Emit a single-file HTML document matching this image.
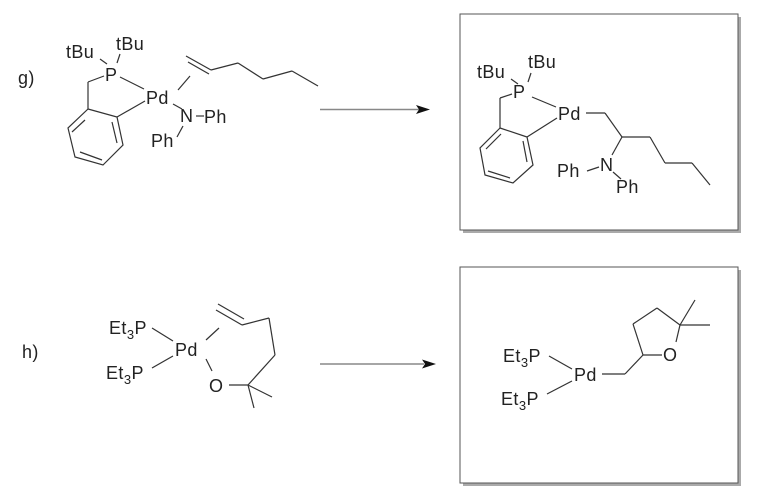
<!DOCTYPE html>
<html><head><meta charset="utf-8"><style>
html,body{margin:0;padding:0;background:#fff;}
svg{display:block;}
text{font-family:"Liberation Sans",sans-serif;font-size:18px;letter-spacing:0.4px;fill:#222;}
.b{stroke:#333;stroke-width:1.2;fill:none;}
</style></head><body>
<svg width="757" height="493" viewBox="0 0 757 493">
<rect x="463" y="17" width="278" height="216" fill="#aaa"/>
<rect x="460" y="14" width="278" height="216" fill="#fff" stroke="#555" stroke-width="1"/>
<rect x="463" y="270" width="278" height="216" fill="#aaa"/>
<rect x="460" y="267" width="278" height="216" fill="#fff" stroke="#555" stroke-width="1"/>

<line x1="320" y1="109.5" x2="420" y2="109.5" stroke="#888" stroke-width="1.5"/>
<polygon points="416,105 430,109.5 416,114 419,109.5" fill="#111"/>
<line x1="320" y1="364" x2="424" y2="364" stroke="#888" stroke-width="1.5"/>
<polygon points="422,359.5 436,364 422,368.5 425,364" fill="#111"/>

<!-- g reactant -->
<text x="18" y="84">g)</text>
<text x="66" y="58">tBu</text>
<text x="116" y="50">tBu</text>
<text x="105" y="81">P</text>
<text x="146" y="104">Pd</text>
<text x="180" y="122">N</text>
<text x="204" y="123">Ph</text>
<text x="151" y="147">Ph</text>
<g class="b">
<line x1="100" y1="59" x2="107" y2="64"/>
<line x1="120" y1="54" x2="117" y2="63"/>
<line x1="88" y1="82" x2="104" y2="76"/>
<line x1="88" y1="82" x2="88" y2="109"/>
<polygon points="88,109 117,117 123,145 103,165 75,157 68,128"/>
<line x1="72" y1="132" x2="85" y2="120"/>
<line x1="112" y1="122" x2="117" y2="143"/>
<line x1="80" y1="152" x2="102" y2="160"/>
<line x1="117" y1="117" x2="145" y2="101"/>
<line x1="120" y1="77" x2="144" y2="89"/>
<line x1="178" y1="90" x2="190" y2="76"/>
<line x1="186" y1="56" x2="211" y2="70"/>
<line x1="188" y1="62" x2="209" y2="74"/>
<line x1="211" y1="70" x2="238" y2="63"/>
<line x1="238" y1="63" x2="263" y2="79"/>
<line x1="263" y1="79" x2="292" y2="71"/>
<line x1="292" y1="71" x2="318" y2="86"/>
<line x1="173" y1="104" x2="182" y2="109"/>
<line x1="196" y1="116" x2="204" y2="116"/>
<line x1="183" y1="126" x2="177" y2="137"/>
</g>

<!-- g product -->
<text x="477" y="78">tBu</text>
<text x="528" y="68">tBu</text>
<text x="513" y="98">P</text>
<text x="558" y="120">Pd</text>
<text x="600" y="171">N</text>
<text x="557" y="177">Ph</text>
<text x="616" y="193">Ph</text>
<g class="b">
<line x1="511" y1="79" x2="518" y2="84"/>
<line x1="531" y1="73" x2="528" y2="82"/>
<line x1="500" y1="98" x2="512" y2="94"/>
<line x1="500" y1="98" x2="500" y2="128"/>
<polygon points="500,128 527,137 533,165 513,183 485,175 480,148"/>
<line x1="486" y1="149" x2="501" y2="134"/>
<line x1="523" y1="141" x2="527" y2="162"/>
<line x1="510" y1="178" x2="488" y2="171"/>
<line x1="527" y1="137" x2="557" y2="118"/>
<line x1="532" y1="97" x2="556" y2="107"/>
<line x1="586" y1="113" x2="605" y2="113"/>
<line x1="605" y1="113" x2="622" y2="137"/>
<line x1="622" y1="137" x2="650" y2="137"/>
<line x1="650" y1="137" x2="665" y2="163"/>
<line x1="665" y1="163" x2="692" y2="163"/>
<line x1="692" y1="163" x2="710" y2="185"/>
<line x1="622" y1="137" x2="612" y2="155"/>
<line x1="587" y1="171" x2="599" y2="167"/>
<line x1="613" y1="172" x2="621" y2="179"/>
</g>

<!-- h reactant -->
<text x="22" y="358">h)</text>
<text x="109" y="334">Et<tspan font-size="13" dy="5">3</tspan><tspan dy="-5">P</tspan></text>
<text x="106" y="379">Et<tspan font-size="13" dy="5">3</tspan><tspan dy="-5">P</tspan></text>
<text x="175" y="356">Pd</text>
<text x="209" y="392">O</text>
<g class="b">
<line x1="152" y1="328" x2="173" y2="341"/>
<line x1="152" y1="368" x2="173" y2="356"/>
<line x1="206" y1="340" x2="219" y2="328"/>
<line x1="216" y1="310" x2="242" y2="325"/>
<line x1="218" y1="304" x2="244" y2="319"/>
<line x1="242" y1="325" x2="269" y2="318"/>
<line x1="269" y1="318" x2="275" y2="355"/>
<line x1="275" y1="355" x2="248" y2="385"/>
<line x1="206" y1="359" x2="212" y2="371"/>
<line x1="229" y1="385" x2="248" y2="385"/>
<line x1="248" y1="385" x2="272" y2="397"/>
<line x1="248" y1="385" x2="254" y2="408"/>
</g>

<!-- h product -->
<text x="503" y="362">Et<tspan font-size="13" dy="5">3</tspan><tspan dy="-5">P</tspan></text>
<text x="501" y="405">Et<tspan font-size="13" dy="5">3</tspan><tspan dy="-5">P</tspan></text>
<text x="574" y="381">Pd</text>
<text x="663" y="361">O</text>
<g class="b">
<line x1="549" y1="356" x2="572" y2="369"/>
<line x1="547" y1="394" x2="572" y2="381"/>
<line x1="602" y1="374" x2="625" y2="374"/>
<line x1="625" y1="374" x2="643" y2="355"/>
<line x1="643" y1="355" x2="633" y2="324"/>
<line x1="633" y1="324" x2="657" y2="308"/>
<line x1="657" y1="308" x2="680" y2="325"/>
<line x1="680" y1="325" x2="676" y2="342"/>
<line x1="643" y1="355" x2="662" y2="355"/>
<line x1="680" y1="325" x2="695" y2="300"/>
<line x1="680" y1="325" x2="710" y2="325"/>
</g>
</svg>
</body></html>
